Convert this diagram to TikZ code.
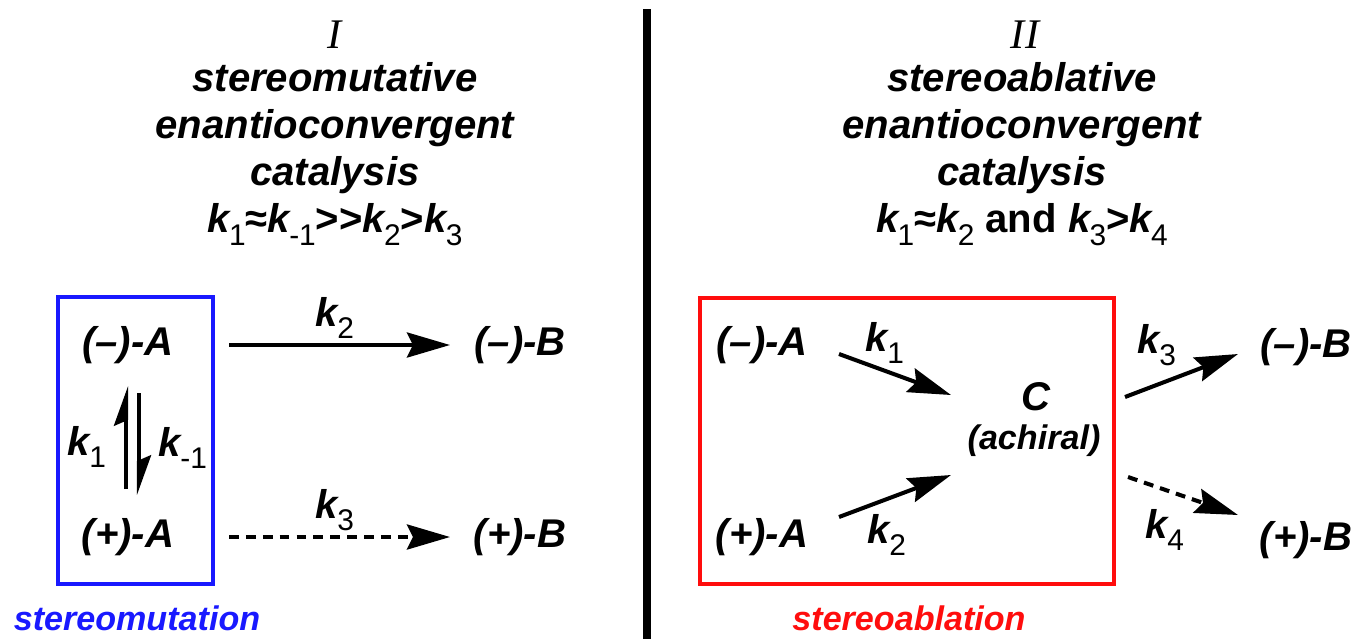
\documentclass[tikz,border=0pt]{standalone}
\usepackage{fontspec}
\setmainfont{Liberation Sans}
\newfontfamily\romfont{Liberation Serif}
\usetikzlibrary{arrows.meta, calc}
\definecolor{mutblue}{rgb}{0.1,0.1,1.0}
\definecolor{ablred}{rgb}{1.0,0.05,0.05}
% rate constant with upright subscript
\newcommand{\kk}[1]{\textit{k}\kern-0.06em\raisebox{-0.6ex}{\normalfont\fontsize{8.5}{9}\selectfont #1}}

\begin{document}
\begin{tikzpicture}[
        x=0.01cm, y=-0.01cm,
        every node/.style={font=\fontsize{11.4}{13.4}\selectfont\bfseries, inner sep=0pt},
        species/.style={font=\fontsize{11.4}{13.4}\selectfont\bfseries\itshape},
        tag/.style={font=\fontsize{9.7}{11}\selectfont\bfseries\itshape},
        head/.style={align=center},
        numeral/.style={font=\fontsize{12}{14}\selectfont\romfont\itshape},
        rxn/.style={-{Stealth[length=4.3mm, width=2.5mm, inset=0.6mm]}, line width=1.15pt},
        slow/.style={rxn, dash pattern=on 2.8pt off 2pt},
        eq/.style={-{Stealth[harpoon, length=3.4mm, width=2.4mm, inset=0.5mm]}, line width=1.15pt},
        frame/.style={line width=0.9pt}
    ]
    \useasboundingbox (0,0) rectangle (1358,639);

    % headers
    \node[numeral] (numI) at (335,35) {I};
    \node[head] (headI) at (335,154) {\itshape stereomutative\\\itshape enantioconvergent\\\itshape catalysis\\\kk{1}≈\kk{-1}>{}>\kk{2}>\kk{3}};
    \node[numeral] (numII) at (1025,35) {II};
    \node[head] (headII) at (1022,154) {\itshape stereoablative\\\itshape enantioconvergent\\\itshape catalysis\\\kk{1}≈\kk{2} and \kk{3}>\kk{4}};

    \draw[line width=2.3pt] (647,9) -- (647,639);

    % I: stereomutation
    \node[species] (mA) at (128,345) {(–)-A};
    \node[species] (pA) at (128,537) {(+)-A};
    \node[species] (mB) at (520,345) {(–)-B};
    \node[species] (pB) at (520,537) {(+)-B};
    \draw[rxn] ($(mA)+(101,0)$) -- ($(mB)+(-70,0)$);
    \draw[slow] ($(pA)+(101,0)$) -- ($(pB)+(-70,0)$);
    \node (k2I) at (335,318) {\kk{2}};
    \node (k3I) at (335,510) {\kk{3}};
    \draw[eq] ($(pA)+(-2,-48)$) -- ($(mA)+(-2,41)$);
    \draw[eq] ($(mA)+(11,48)$) -- ($(pA)+(11,-42)$);
    \node (k1I) at (87,447) {\kk{1}};
    \node (kmI) at (183,448) {\kk{-1}};
    \draw[mutblue, frame] (58,297) rectangle (213,584);
    \node[tag, mutblue] (mutlab) at (137,618) {stereomutation};

    % II: stereoablation
    \node[species] (mA2) at (762,345) {(–)-A};
    \node[species] (pA2) at (762,537) {(+)-A};
    \node[species] (C) at (1036,397) {C};
    \node[tag] (achiral) at (1034,441) {(achiral)};
    \node[species] (mB2) at (1306,347) {(–)-B};
    \node[species] (pB2) at (1306,540) {(+)-B};
    \draw[rxn] ($(mA2)+(77,9)$) -- ($(C)+(-85,-2)$);
    \draw[rxn] ($(pA2)+(77,-20)$) -- ($(C)+(-85,78)$);
    \draw[rxn] ($(C)+(89,0)$) -- ($(mB2)+(-68,7)$);
    \draw[slow] ($(C)+(92,80)$) -- ($(pB2)+(-68,-25)$);
    \node (k1II) at (885,343) {\kk{1}};
    \node (k2II) at (887,535) {\kk{2}};
    \node (k3II) at (1157,345) {\kk{3}};
    \node (k4II) at (1165,530) {\kk{4}};
    \draw[ablred, frame] (700,298) rectangle (1114,584);
    \node[tag, ablred] (ablab) at (909,618) {stereoablation};
\end{tikzpicture}
\end{document}
